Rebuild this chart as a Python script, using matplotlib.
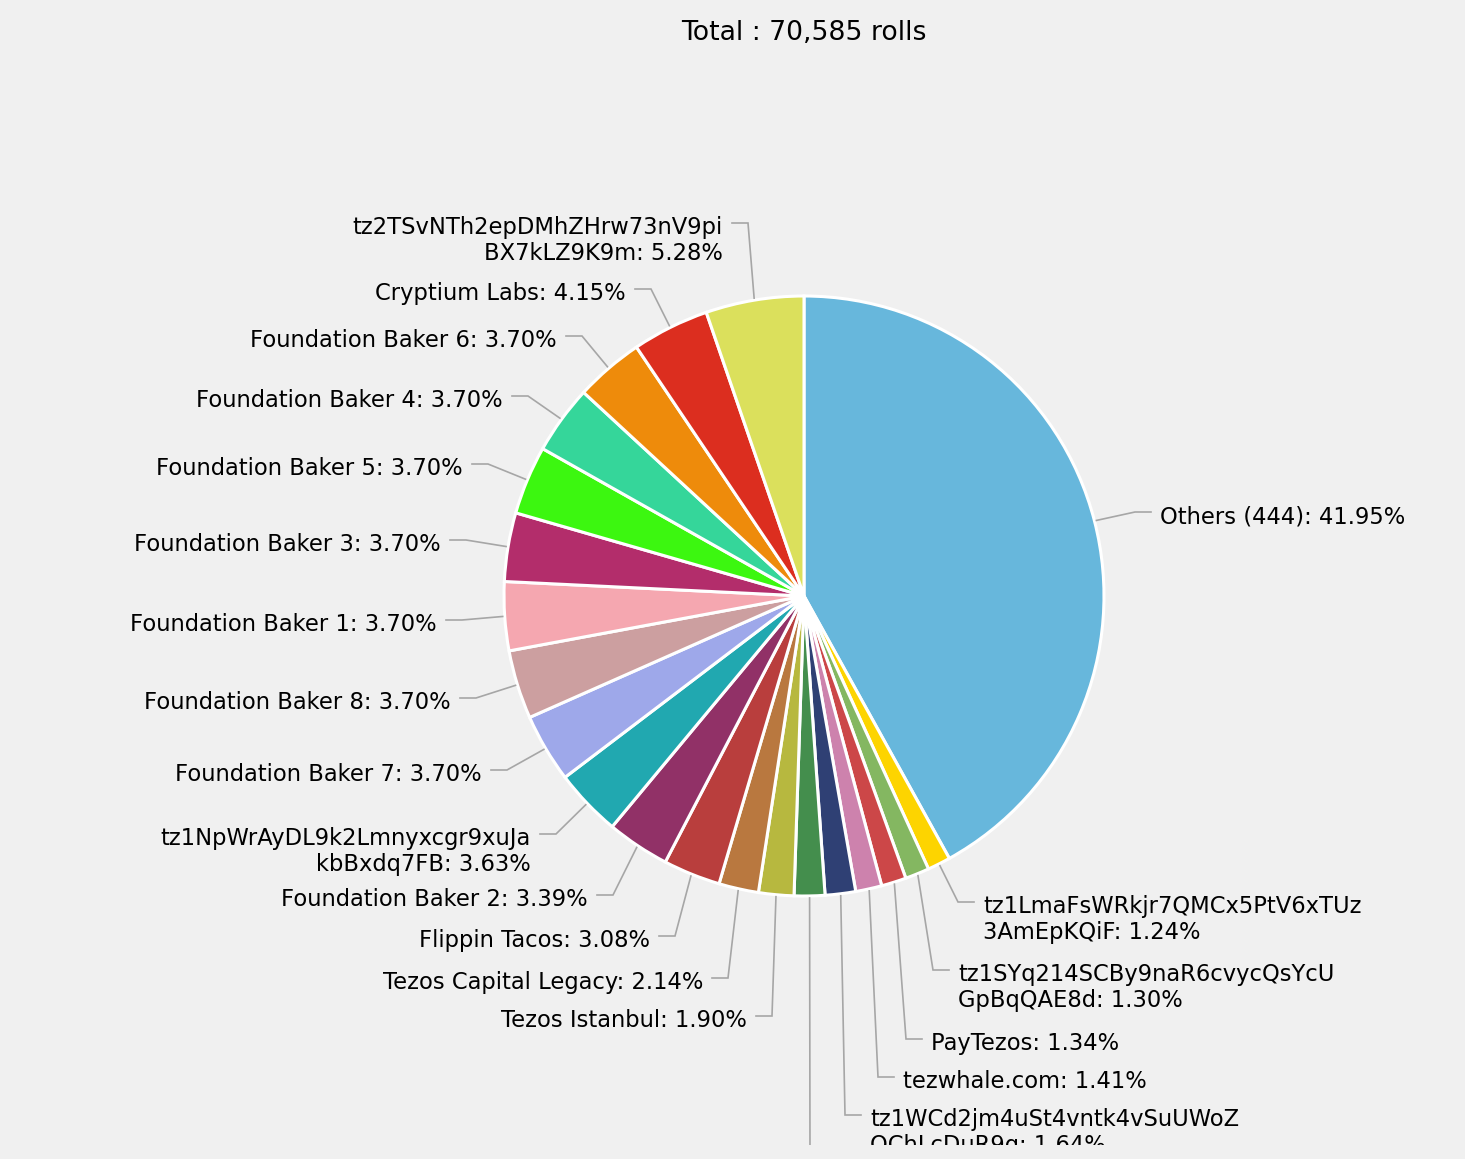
import numpy as np
import matplotlib
matplotlib.use("Agg")
import matplotlib.pyplot as plt

# ---- data (percent of rolls, clockwise from 12 o'clock) ----
names = [
    "Others (444)",
    "tz1LmaFsWRkjr7QMCx5PtV6xTUz\n3AmEpKQiF",
    "tz1SYq214SCBy9naR6cvycQsYcU\nGpBqQAE8d",
    "PayTezos",
    "tezwhale.com",
    "tz1WCd2jm4uSt4vntk4vSuUWoZ\nQChLcDuR9q",
    "",  # label falls outside the visible area
    "Tezos Istanbul",
    "Tezos Capital Legacy",
    "Flippin Tacos",
    "Foundation Baker 2",
    "tz1NpWrAyDL9k2Lmnyxcgr9xuJa\nkbBxdq7FB",
    "Foundation Baker 7",
    "Foundation Baker 8",
    "Foundation Baker 1",
    "Foundation Baker 3",
    "Foundation Baker 5",
    "Foundation Baker 4",
    "Foundation Baker 6",
    "Cryptium Labs",
    "tz2TSvNTh2epDMhZHrw73nV9pi\nBX7kLZ9K9m",
]
shares = [41.95, 1.24, 1.30, 1.34, 1.41, 1.64, 1.65, 1.90, 2.14, 3.08, 3.39,
          3.63, 3.70, 3.70, 3.70, 3.70, 3.70, 3.70, 3.70, 4.15, 5.28]
colors = ["#67b7dc", "#fdd400", "#84b761", "#cc4748", "#cd82ad", "#2f4074",
          "#448e4d", "#b7b83f", "#b9783f", "#b93e3d", "#913167", "#21a8b0",
          "#9ea8ea", "#cc9fa0", "#f5a7b0", "#b32d6b", "#3cf710", "#35d69a",
          "#ee8b0b", "#dc2e1f", "#dbe05c"]
total_rolls = 70585

# ---- layout (pixels, y down) ----
W, H, CLIP = 1465, 1159, 1145
CX, CY, R = 804, 596, 300
# text anchor x (left edge on right side, right edge on left side) and connector y
label_x = [1160, 983, 958, 931, 903, 870, 835, 747, 703, 650, 588, 531,
           482, 451, 437, 441, 463, 503, 557, 626, 723]
label_y = [512, 902, 970, 1039, 1077, 1115, 1160, 1016, 978, 936, 895, 834,
           770, 698, 620, 540, 464, 396, 336, 289, 223]

BG = "#f0f0f0"
LINE = "#a6a6a6"
FONT = "DejaVu Sans"

fig = plt.figure(figsize=(W / 100, H / 100), dpi=100, facecolor=BG)
ax = fig.add_axes([0, (H - CLIP) / H, 1, CLIP / H])
ax.set_facecolor(BG)

# inverted y axis: counterclock in data == clockwise on screen
ax.pie(shares, colors=colors, center=(CX, CY), radius=R, startangle=-90,
       counterclock=True, wedgeprops=dict(edgecolor="white", linewidth=2.2))
ax.set_xlim(0, W)
ax.set_ylim(CLIP, 0)
ax.set_aspect("auto")
ax.axis("off")

cum = np.cumsum(shares) - np.array(shares) / 2
for name, val, mid, tx, ty in zip(names, shares, cum, label_x, label_y):
    phi = np.deg2rad(mid / sum(shares) * 360)
    ex, ey = CX + (R + 2) * np.sin(phi), CY - (R + 2) * np.cos(phi)
    side = 1 if np.sin(phi) > 0 else -1
    elbow = tx - side * 25
    end = tx - side * 9
    ax.plot([ex, elbow, end], [ey, ty, ty], color=LINE, lw=1.2,
            solid_joinstyle="miter", zorder=1)
    if not name:
        continue
    lines = (name + f": {val:.2f}%").split("\n")
    for i, line in enumerate(lines):
        ax.text(tx, ty + 11 + i * 26, line, ha="left" if side > 0 else "right",
                va="baseline", fontsize=16.3, family=FONT, color="#000000",
                clip_on=True)

ax.text(CX, 40, f"Total : {total_rolls:,} rolls", ha="center", va="baseline",
        fontsize=19.2, family=FONT, color="#000000")

fig.savefig("out.png", dpi=100, facecolor=BG)
